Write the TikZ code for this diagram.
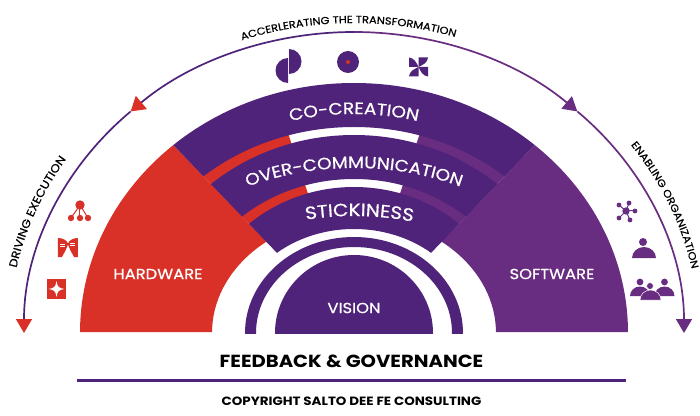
\documentclass[tikz,border=0pt]{standalone}
\usepackage{fontspec}
\setmainfont{Poppins}[FakeStretch=1.12]
\newfontfamily\capsfont{Poppins}[FakeStretch=1.12,FakeBold=0.6]
\usetikzlibrary{arrows.meta,decorations.text}
\definecolor{hwred}{HTML}{D93127}
\definecolor{swpurple}{HTML}{682C80}
\definecolor{bandpurple}{HTML}{4F2379}
\tikzset{
    bandtext/.style={decorate, decoration={text along path, text align=center, text={#1}}},
    sidearrow/.style={line width=1.7pt, -{Triangle[length=14pt,width=16pt]}},
    covertext/.style={text=white, inner sep=0pt, font=\capsfont\fontsize{14.6}{15}\selectfont}
}
\newcommand{\whitecaps}{\color{white}\capsfont\fontsize{16.5}{17}\selectfont}
\newcommand{\stickycaps}{\color{white}\capsfont\fontsize{17.8}{18}\selectfont}
\newcommand{\smallcaps}{\color{black}\capsfont\fontsize{10.2}{11}\selectfont}
\newcommand{\drivecaps}{\color{black}\capsfont\fontsize{11.2}{12}\selectfont}
\begin{document}
\begin{tikzpicture}[x=1pt,y=1pt]
    \useasboundingbox (-354,-82) rectangle (346,333);

    % side sectors and the two thin strips
    \foreach \s/\col in {-1/hwred, 1/swpurple} {
        \begin{scope}
            \clip (0,0) -- (\s*300,312) -- (\s*400,312) -- (\s*400,1) -- (0,1) -- cycle;
            \fill[\col, even odd rule] (0,0) ellipse [x radius=274, y radius=250]
                (0,0) ellipse [x radius=142, y radius=116];
        \end{scope}
        \begin{scope}
            \clip (0,0) -- (\s*300,312) -- (\s*100,303) -- cycle;
            \fill[\col, even odd rule] (0,0) ellipse [x radius=240, y radius=212]
                (0,0) ellipse [x radius=142, y radius=116];
        \end{scope}
    }

    % centre white wedge is left empty, bands go on top
    \begin{scope}
        \clip (0,0) -- (-300,312) -- (-300,340) -- (300,340) -- (300,312) -- cycle;
        \foreach \a/\b/\c/\d in {274/250/232/206, 217/198/171/154, 158/146/121/104} {
            \fill[bandpurple, even odd rule] (0,0) ellipse [x radius=\a, y radius=\b]
                (0,0) ellipse [x radius=\c, y radius=\d];
        }
    \end{scope}

    % vision and its ring
    \begin{scope}
        \clip (-150,0) rectangle (150,120);
        \fill[bandpurple, even odd rule] (0,0) ellipse [x radius=109, y radius=96]
            (0,0) ellipse [x radius=98, y radius=86];
        \fill[bandpurple] (0,0) ellipse [x radius=79, y radius=78];
    \end{scope}

    % band labels
    \path[bandtext={|\whitecaps|CO-CREATION}] (130:250 and 219) arc[start angle=130, end angle=50, x radius=250, y radius=219];
    \path[bandtext={|\whitecaps|OVER-COMMUNICATION}] (150:230 and 165) arc[start angle=150, end angle=30, x radius=230, y radius=165];
    \path[bandtext={|\stickycaps|STICKINESS}] (133:190 and 117) arc[start angle=133, end angle=43, x radius=190, y radius=117];

    \node[covertext] (hardware) at (-196,59) {HARDWARE};
    \node[covertext] (software) at (198,59) {SOFTWARE};
    \node[covertext] (vision) at (0,25) {VISION};

    % outer arc, drawn in four pieces for the arrow tips
    \coordinate (topleft) at (90:330 and 301);
    \coordinate (midleft) at (132.6:330 and 301);
    \coordinate (midright) at (47.4:330 and 301);
    \coordinate (endleft) at (180:330 and 301);
    \coordinate (endright) at (0:330 and 301);
    \draw[sidearrow, bandpurple, -{Triangle[length=14pt,width=17pt,fill=hwred,color=hwred]}] (topleft) arc[start angle=90, end angle=132.6, x radius=330, y radius=301];
    \draw[sidearrow, bandpurple, -{Triangle[length=14pt,width=16pt,fill=hwred,color=hwred]}] (midleft) arc[start angle=132.6, end angle=180, x radius=330, y radius=301];
    \draw[sidearrow, swpurple] (topleft) arc[start angle=90, end angle=47.4, x radius=330, y radius=301];
    \draw[sidearrow, swpurple] (midright) arc[start angle=47.4, end angle=0, x radius=330, y radius=301];

    \path[bandtext={|\smallcaps|ACCERLERATING THE TRANSFORMATION}] (130:340 and 310) arc[start angle=130, end angle=52, x radius=340, y radius=310];
    \path[bandtext={|\drivecaps|DRIVING EXECUTION}] (179:345 and 315) arc[start angle=179, end angle=136, x radius=345, y radius=315];
    \path[bandtext={|\smallcaps|ENABLING ORGANIZATION}] (46:345 and 315) arc[start angle=46, end angle=2, x radius=345, y radius=315];

    % top icons
    \fill[bandpurple] (-65,284) arc[start angle=90, end angle=-90, radius=12.5] -- cycle;
    \fill[bandpurple] (-66,275) arc[start angle=90, end angle=270, radius=12.5] -- cycle;
    \fill[bandpurple] (-6,271) circle (11);
    \fill[hwred] (-6,271) circle (2);
    \foreach \r in {0,90,180,270} {
        \fill[bandpurple, shift={(64.5,266)}, rotate=\r] (0,0) -- (0,9.5) -- (9.5,9.5) .. controls (9,4) and (4,2) .. (0,0);
    }

    % left icons
    \foreach \x in {-283,-274,-266} {
        \draw[hwred, line width=1pt] (-274,128) -- (\x,115);
        \fill[hwred] (\x,115) circle (3.2);
    }
    \fill[hwred] (-274,128) circle (4.7);
    \begin{scope}[shift={(-286,85.5)}]
        \fill[hwred] (-10,9.5) .. controls (-5,9.5) and (-1,7) .. (0,4) .. controls (1,7) and (5,9.5) .. (10,9.5)
            -- (10,-9.5) -- (6,-9.5) .. controls (3,-4) and (1,0) .. (0,3) .. controls (-1,0) and (-3,-4) .. (-6,-9.5) -- (-10,-9.5) -- cycle;
        \foreach \y in {3.5,1.5} {
            \draw[white, line width=.6pt] (-7.5,\y) -- (-2.5,\y);
            \draw[white, line width=.6pt] (2.5,\y+1) -- (7.5,\y+1);
        }
    \end{scope}
    \begin{scope}[shift={(-297.5,44)}]
        \fill[hwred] (-9.8,-9.8) rectangle (9.8,9.8);
        \fill[white] (0,8) .. controls (1,2) and (2,1) .. (8,0) .. controls (2,-1) and (1,-2) .. (0,-8)
            .. controls (-1,-2) and (-2,-1) .. (-8,0) .. controls (-2,1) and (-1,2) .. (0,8);
    \end{scope}

    % right icons
    \foreach \x/\y in {275/130, 281/122, 276/113, 265/115, 265/128} {
        \draw[swpurple, line width=1pt] (272,122) -- (\x,\y);
        \fill[swpurple] (\x,\y) circle (2.4);
    }
    \fill[swpurple] (272,122) circle (3.7);
    \fill[swpurple] (289,91) circle (4);
    \fill[swpurple] (278,75) arc[start angle=180, end angle=0, x radius=12, y radius=11] -- cycle;
    \foreach \x in {286,310.5} {
        \fill[swpurple] (\x,51) circle (3.4);
        \fill[swpurple] (\x-10,37) arc[start angle=180, end angle=0, x radius=10, y radius=9.5] -- cycle;
    }
    \fill[swpurple, draw=white, line width=.5pt] (296,47) circle (3.4);
    \fill[swpurple, draw=white, line width=.5pt] (286,33) arc[start angle=180, end angle=0, x radius=10.5, y radius=10] -- cycle;

    % bottom
    \node[inner sep=0pt, font=\bfseries\fontsize{17.5}{18}\selectfont] (feedback) at (-2.5,-28) {FEEDBACK \& GOVERNANCE};
    \coordinate (ruleleft) at (-277,-47);
    \coordinate (ruleright) at (272,-47);
    \draw[bandpurple, line width=3pt] (ruleleft) -- (ruleright);
    \node[inner sep=0pt, font=\bfseries\fontsize{12}{12}\selectfont] (copyright) at (-2.5,-68) {COPYRIGHT SALTO DEE FE CONSULTING};
\end{tikzpicture}
\end{document}
